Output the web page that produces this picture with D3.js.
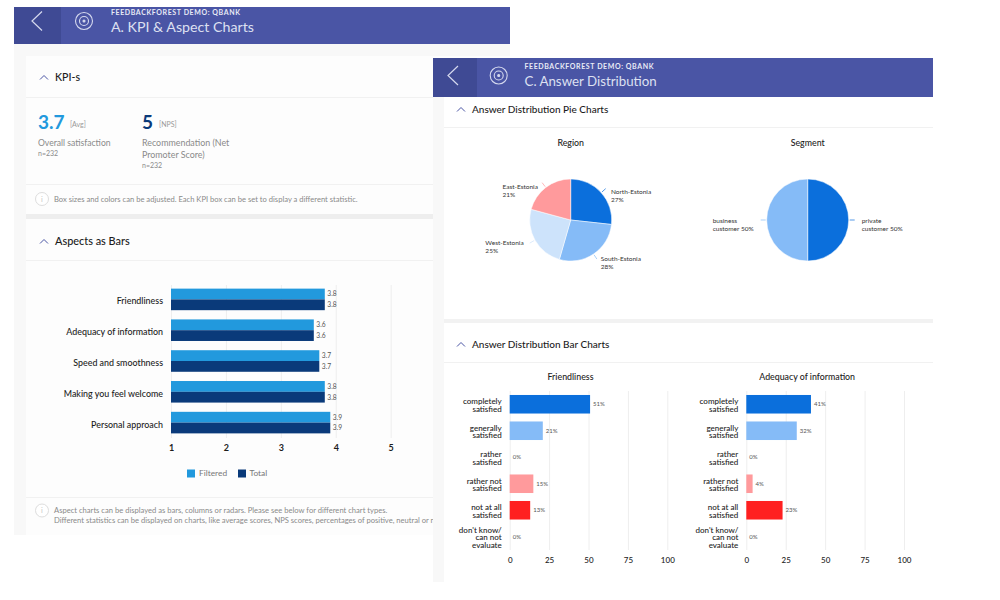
<!DOCTYPE html>
<html>
<head>
<meta charset="utf-8">
<script src="https://cdn.jsdelivr.net/npm/d3@7"></script>
<style>
body {margin: 0; background: #fff;}
svg {display: block; font-family: Lato, sans-serif;}
.grid line {stroke: #eeeeee;}
.domainless .domain {display: none;}
</style>
</head>
<body>
<svg id="page" width="1000" height="600"></svg>
<script>
/* values */
var aspects = ['Friendliness', 'Adequacy of information', 'Speed and smoothness', 'Making you feel welcome', 'Personal approach'];
var aspectFiltered = [3.8, 3.6, 3.7, 3.8, 3.9];
var aspectTotal = [3.8, 3.6, 3.7, 3.8, 3.9];
var aspectTicks = [1, 2, 3, 4, 5];

var regions = ['North-Estonia', 'South-Estonia', 'West-Estonia', 'East-Estonia'];
var regionValues = [27, 28, 25, 21];
var regionColors = ['#0b6fdc', '#85bbf7', '#cde3fb', '#ff9a9c'];

var segments = ['private customer', 'business customer'];
var segmentValues = [50, 50];
var segmentColors = ['#0b6fdc', '#85bbf7'];

var answers = ['completely|satisfied', 'generally|satisfied', 'rather|satisfied', 'rather not|satisfied', 'not at all|satisfied', "don't know/|can not|evaluate"];
var answerColors = ['#0b6fdc', '#85bbf7', '#cde3fb', '#ff9a9c', '#ff2020', '#999999'];
var friendlinessValues = [51, 21, 0, 15, 13, 0];
var adequacyValues = [41, 32, 0, 4, 23, 0];
var percentTicks = [0, 25, 50, 75, 100];

var svg = d3.select('#page');

function rect(x, y, w, h, fill) {
    svg.append('rect').attr('x', x).attr('y', y).attr('width', w).attr('height', h).attr('fill', fill);
}

function label(x, y, str, size, color, weight, anchor) {
    return svg.append('text')
        .attr('x', x).attr('y', y)
        .attr('dy', '.35em')
        .attr('font-size', size)
        .attr('fill', color)
        .attr('font-weight', weight || 400)
        .attr('text-anchor', anchor || 'start')
        .text(str);
}

function header(x, y, w, h, darkW, midY, iconDx, textDx, titleSize, small, title) {
    var cy = y + midY;
    rect(x, y, w, h, '#4a55a5');
    rect(x, y, darkW, h, '#3f4a94');
    var tx = x + darkW;
    svg.append('path')
        .attr('d', 'M' + (tx - 19) + ',' + (cy - 9.5) + 'L' + (tx - 29) + ',' + cy + 'L' + (tx - 19) + ',' + (cy + 9.5))
        .attr('fill', 'none').attr('stroke', '#d5d9ee').attr('stroke-width', 1.2);
    [8.5, 4.5, 1].forEach(function(r) {
        svg.append('circle').attr('cx', tx + iconDx).attr('cy', cy).attr('r', r)
            .attr('fill', r == 1 ? '#d5d9ee' : 'none').attr('stroke', '#d5d9ee').attr('stroke-width', 1.1);
    });
    label(tx + textDx, cy - 8.5, small, 7, '#e8eaf5', 700).attr('letter-spacing', '.6px');
    label(tx + textDx, cy + 6, title, titleSize, '#dde0f1', 400);
}

function sectionTitle(x, y, str, size) {
    svg.append('path')
        .attr('d', 'M' + x + ',' + (y + 2.5) + 'l4,-4l4,4')
        .attr('fill', 'none').attr('stroke', '#4a55a5').attr('stroke-width', 1);
    label(x + 15, y, str, size, '#1c1c1c', 500);
}

function infoNote(y, lines) {
    svg.append('circle').attr('cx', 42).attr('cy', y).attr('r', 6.5)
        .attr('fill', '#fff').attr('stroke', '#dddddd');
    label(42, y, 'i', 7.5, '#c8c8c8', 400, 'middle');
    lines.forEach(function(l, i) {
        label(54, y + i * 10.3, l, 7.6, '#8a8a8a', 400);
    });
}

/* left panel */
rect(14, 44, 496, 491, '#f8f8f8');
rect(26, 56, 484, 158, '#fdfdfd');
rect(26, 214, 484, 5, '#eeeeee');
rect(26, 219, 484, 316, '#fdfdfd');
rect(26, 97, 484, 1, '#f1f1f1');
rect(26, 184, 484, 1, '#f1f1f1');
rect(26, 260, 484, 1, '#f1f1f1');
rect(26, 497, 484, 1, '#f1f1f1');
header(14, 7, 496, 37, 47, 14, 23, 50, 14.2, 'FEEDBACKFOREST DEMO: QBANK', 'A. KPI & Aspect Charts');

sectionTitle(40, 77, 'KPI-s', 10.6);
label(38, 122, '3.7', 19, '#2299dd', 700);
label(70, 125, '[Avg]', 7, '#999999');
label(38, 143, 'Overall satisfaction', 8.6, '#8a8a8a');
label(38, 154, 'n=232', 7, '#8a8a8a');
label(142, 122, '5', 19, '#0a3a7a', 700);
label(159, 125, '[NPS]', 7, '#999999');
label(142, 143, 'Recommendation (Net', 8.9, '#8a8a8a');
label(142, 155, 'Promoter Score)', 8.9, '#8a8a8a');
label(142, 166, 'n=232', 7, '#8a8a8a');
infoNote(199, ['Box sizes and colors can be adjusted. Each KPI box can be set to display a different statistic.']);

sectionTitle(40, 241, 'Aspects as Bars', 10.9);
infoNote(510.5, ['Aspect charts can be displayed as bars, columns or radars. Please see below for different chart types.',
    'Different statistics can be displayed on charts, like average scores, NPS scores, percentages of positive, neutral or negative answers.']);

/* horizontal grouped bars */
var xAspect = d3.scaleLinear().domain([1, 5]).range([171, 390.7]);
var yAspect = d3.scaleBand().domain(aspects).range([284, 438]).paddingInner(0.3).paddingOuter(0.15);
var ySeries = d3.scaleBand().domain(['Filtered', 'Total']).range([0, yAspect.bandwidth()]);

svg.append('g').attr('class', 'grid domainless')
    .attr('transform', 'translate(0,438)')
    .call(d3.axisBottom(xAspect).tickValues(aspectTicks).tickFormat(d3.format('d')).tickSize(-153).tickSizeOuter(0).tickPadding(7))
    .call(function(g) {
        g.selectAll('text').attr('font-family', 'Lato, sans-serif').attr('font-size', 9).attr('font-weight', 700).attr('fill', '#1c1c1c');
    });

svg.append('g').attr('class', 'domainless')
    .attr('transform', 'translate(171,0)')
    .call(d3.axisLeft(yAspect).tickSize(0).tickPadding(8))
    .call(function(g) {
        g.selectAll('text').attr('dy', '.56em').attr('font-family', 'Lato, sans-serif').attr('font-size', 8.9).attr('font-weight', 500).attr('fill', '#1c1c1c');
    });

[['Filtered', aspectFiltered, '#2299dd'], ['Total', aspectTotal, '#0a3a7a']].forEach(function(s) {
    svg.append('g').selectAll('rect').data(s[1]).join('rect')
        .attr('x', xAspect(1))
        .attr('y', function(d, i) { return yAspect(aspects[i]) + ySeries(s[0]); })
        .attr('width', function(d) { return xAspect(d) - xAspect(1); })
        .attr('height', ySeries.bandwidth())
        .attr('fill', s[2]);
    svg.append('g').selectAll('text').data(s[1]).join('text')
        .attr('x', function(d) { return xAspect(d) + 2.5; })
        .attr('y', function(d, i) { return yAspect(aspects[i]) + ySeries(s[0]) + ySeries.bandwidth() / 2; })
        .attr('dy', '.35em')
        .attr('font-size', 6.7).attr('fill', '#555555')
        .text(function(d) { return d.toFixed(1); });
});

rect(187, 469.5, 8, 8, '#2299dd');
label(199, 473.5, 'Filtered', 8.4, '#777777');
rect(238, 469.5, 8, 8, '#0a3a7a');
label(249.5, 473.5, 'Total', 8.4, '#777777');

/* right panel */
rect(433, 97, 500, 485, '#ffffff');
rect(433, 97, 11, 485, '#f8f8f8');
rect(444, 319, 489, 4, '#f2f2f2');
rect(444, 127, 489, 1, '#f1f1f1');
rect(444, 362, 489, 1, '#f1f1f1');
header(433, 58, 500, 39, 44, 17.5, 21.7, 47.5, 13.3, 'FEEDBACKFOREST DEMO: QBANK', 'C. Answer Distribution');

sectionTitle(457, 109, 'Answer Distribution Pie Charts', 10);
sectionTitle(457, 344, 'Answer Distribution Bar Charts', 10);

function pieChart(cx, title, names, values, colors) {
    var cy = 220, r = 41;
    var arc = d3.arc().innerRadius(0).outerRadius(r);
    var slices = d3.pie().sort(null)(values);
    var g = svg.append('g').attr('transform', 'translate(' + cx + ',' + cy + ')');

    label(cx, 143, title, 8.8, '#1c1c1c', 500, 'middle');

    g.selectAll('path.slice').data(slices).join('path')
        .attr('class', 'slice')
        .attr('d', arc)
        .attr('fill', function(d, i) { return colors[i]; })
        .attr('stroke', '#fff').attr('stroke-width', 0.5);

    slices.forEach(function(d, i) {
        var mid = (d.startAngle + d.endAngle) / 2;
        var sin = Math.sin(mid), cos = Math.cos(mid);
        g.append('line')
            .attr('x1', sin * (r + 1)).attr('y1', -cos * (r + 1))
            .attr('x2', sin * (r + 6)).attr('y2', -cos * (r + 6))
            .attr('stroke', colors[i]).attr('stroke-width', 0.7);
        var words = (names[i] + ' ' + values[i] + '%').split(' ');
        var lines = [words[0], words.slice(1).join(' ')];
        var t = g.append('text').attr('font-size', 6.5).attr('fill', '#333333');
        lines.forEach(function(l, j) {
            t.append('tspan').attr('x', 0).attr('dy', j ? 8 : 0).text(l);
        });
        var tw = t.node().getBBox().width;
        var tx = sin * (r + 13) - (sin < 0 ? tw : 0);
        var ty = -cos * (cos > 0 ? r + 1 : r + 5) + 2.5;
        t.attr('transform', 'translate(' + tx + ',' + ty + ')');
    });
}

pieChart(570.7, 'Region', regions, regionValues, regionColors);
pieChart(807.7, 'Segment', segments, segmentValues, segmentColors);

function answerChart(x0, x100, title, values) {
    var x = d3.scaleLinear().domain([0, 100]).range([x0, x100]);
    var y = d3.scaleBand().domain(answers).range([391, 550]).paddingInner(0.3).paddingOuter(0.15);

    label((x0 + x100) / 2 - 18, 377, title, 8.8, '#1c1c1c', 500, 'middle');

    svg.append('g').attr('class', 'grid domainless')
        .attr('transform', 'translate(0,550)')
        .call(d3.axisBottom(x).tickValues(percentTicks).tickSize(-159).tickSizeOuter(0).tickPadding(7))
        .call(function(g) {
            g.selectAll('text').attr('font-family', 'Lato, sans-serif').attr('font-size', 8).attr('font-weight', 500).attr('fill', '#1c1c1c');
        });

    svg.append('g').selectAll('rect').data(values).join('rect')
        .attr('x', x(0))
        .attr('y', function(d, i) { return y(answers[i]); })
        .attr('width', function(d) { return x(d) - x(0); })
        .attr('height', y.bandwidth())
        .attr('fill', function(d, i) { return answerColors[i]; });

    svg.append('g').selectAll('text').data(values).join('text')
        .attr('x', function(d) { return x(d) + 3; })
        .attr('y', function(d, i) { return y(answers[i]) + y.bandwidth() / 2; })
        .attr('dy', '.35em')
        .attr('font-size', 6).attr('fill', '#555555')
        .text(function(d) { return d + '%'; });

    var labels = svg.append('g').selectAll('text').data(answers).join('text')
        .attr('text-anchor', 'end')
        .attr('font-size', 8).attr('font-weight', 500).attr('fill', '#1c1c1c');
    labels.each(function(a) {
        var lines = a.split('|');
        var top = y(a) + y.bandwidth() / 2 - (lines.length - 1) * 4 + 3.8;
        d3.select(this).selectAll('tspan').data(lines).join('tspan')
            .attr('x', x0 - 8)
            .attr('y', function(d, i) { return top + i * 7.8; })
            .text(function(d) { return d; });
    });
}

answerChart(509.7, 667.3, 'Friendliness', friendlinessValues);
answerChart(746.3, 904, 'Adequacy of information', adequacyValues);
</script>
</body>
</html>
